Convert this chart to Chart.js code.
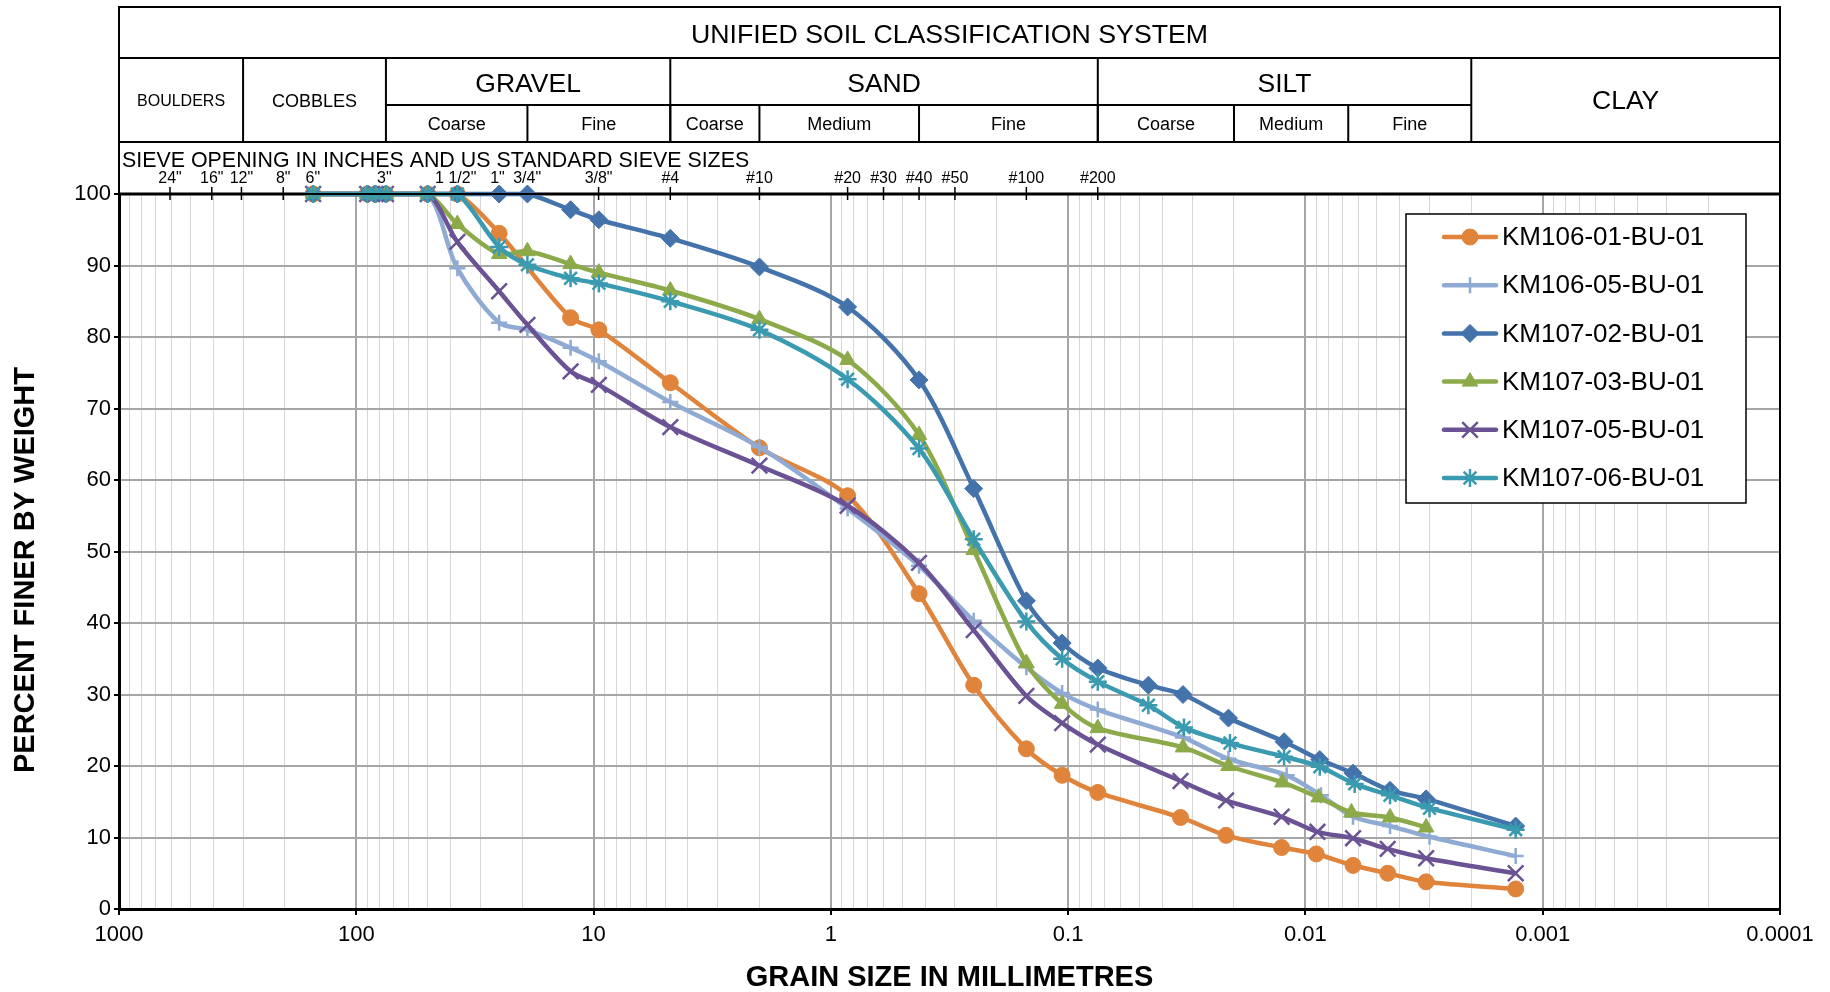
<!DOCTYPE html>
<html lang="en">

<head>
    <meta charset="UTF-8">
    <title>Grain size distribution</title>
    <script src="https://cdn.jsdelivr.net/npm/chart.js"></script>
    <style>
        html, body { margin: 0; padding: 0; background: #fff; }
        canvas { display: block; }
    </style>
</head>

<body>
    <canvas id="grafico" width="1830" height="992"></canvas>

<script>
    // sieve sizes (mm) read for every sample
    const sieveSizes = [152, 90, 83, 75, 50, 37.5, 25, 19, 12.5, 9.5, 4.75, 2.0, 0.85, 0.425, 0.25, 0.15, 0.106, 0.075];

    // percent passing at each sieve (null = no reading)
    const km10601Sieve = [100, 100, 100, 100, 100, 100, 94.5, null, 82.7, 81.0, 73.6, 64.5, 57.8, 44.1, 31.3, 22.4, 18.7, 16.3];
    const km10605Sieve = [100, 100, 100, 100, 100, 89.6, 82.0, 81.0, 78.5, 76.6, 70.9, 64.6, 56.0, 48.0, 40.3, 33.8, 30.2, 27.9];
    const km10702Sieve = [100, 100, 100, 100, 100, 100, 100, 100, 97.8, 96.4, 93.8, 89.8, 84.2, 74.0, 58.8, 43.1, 37.2, 33.7];
    const km10703Sieve = [100, 100, 100, 100, 100, 95.8, 91.6, 92.0, 90.2, 89.0, 86.5, 82.5, 76.8, 66.3, 50.2, 34.4, 28.7, 25.3];
    const km10705Sieve = [100, 100, 100, 100, 100, 93.3, 86.4, 81.7, 75.2, 73.3, 67.4, 62.0, 56.4, 48.4, 39.0, 29.8, 26.0, 23.0];
    const km10706Sieve = [100, 100, 100, 100, 100, 100, 92.6, 90.1, 88.2, 87.5, 85.0, 81.0, 74.1, 64.4, 51.7, 40.2, 35.0, 31.8];

    // hydrometer: diameter (mm) and percent finer
    const km10601HydroSize = [0.0336, 0.0216, 0.0126, 0.0090, 0.0063, 0.0045, 0.0031, 0.0013];
    const km10601HydroPass = [12.8, 10.3, 8.6, 7.7, 6.1, 5.0, 3.8, 2.8];
    const km10605HydroSize = [0.0328, 0.0211, 0.0120, 0.0086, 0.0063, 0.0044, 0.0030, 0.0013];
    const km10605HydroPass = [24.0, 21.0, 18.7, 15.9, 12.9, 11.6, 10.1, 7.4];
    const km10702HydroSize = [0.0459, 0.0328, 0.0211, 0.0123, 0.0087, 0.0063, 0.0044, 0.0031, 0.0013];
    const km10702HydroPass = [31.3, 30.0, 26.7, 23.4, 20.9, 19.0, 16.6, 15.4, 11.6];
    const km10703HydroSize = [0.0328, 0.0211, 0.0125, 0.0088, 0.0064, 0.0044, 0.0031];
    const km10703HydroPass = [22.6, 20.0, 17.7, 15.6, 13.5, 12.8, 11.4];
    const km10705HydroSize = [0.0336, 0.0216, 0.0126, 0.0089, 0.0063, 0.0045, 0.0031, 0.0013];
    const km10705HydroPass = [17.9, 15.2, 12.9, 10.8, 9.9, 8.4, 7.1, 5.0];
    const km10706HydroSize = [0.0459, 0.0325, 0.0208, 0.0123, 0.0087, 0.0062, 0.0044, 0.0030, 0.0013];
    const km10706HydroPass = [28.5, 25.4, 23.2, 21.3, 19.9, 17.5, 15.9, 14.1, 11.1];

    const sampleNames = ['KM106-01-BU-01', 'KM106-05-BU-01', 'KM107-02-BU-01', 'KM107-03-BU-01', 'KM107-05-BU-01', 'KM107-06-BU-01'];

    // sieve ticks along the top of the plot
    const sieveLabels = ['24"', '16"', '12"', '8"', '6"', '3"', '1 1/2"', '1"', '3/4"', '3/8"', '#4', '#10', '#20', '#30', '#40', '#50', '#100', '#200'];
    const sieveOpenings = [609.6, 406.4, 304.8, 203.2, 152.4, 76.2, 38.1, 25.4, 19.05, 9.525, 4.75, 2.0, 0.85, 0.6, 0.425, 0.3, 0.15, 0.075];

    // classification table (grain size limits in mm)
    const mainClasses = ['BOULDERS', 'COBBLES', 'GRAVEL', 'SAND', 'SILT', 'CLAY'];
    const mainLimits = [1000, 300, 75, 4.75, 0.075, 0.002, 0.0001];
    const subClasses = ['Coarse', 'Fine', 'Coarse', 'Medium', 'Fine', 'Coarse', 'Medium', 'Fine'];
    const subLimits = [75, 19, 4.75, 2.0, 0.425, 0.075, 0.02, 0.0066, 0.002];

    // estilo de cada serie
    const lineColors = ['#E0843C', '#8FAAD3', '#4472AB', '#8CAA4A', '#6A5294', '#3A9AB0'];
    const markerStyles = ['circle', 'cross', 'rectRot', 'triangle', 'crossRot', 'star'];
    const markerRadius = [8, 8, 9, 9, 11, 9];
    const markerBorder = [1, 2.5, 1, 1, 2.5, 2.5];

    const sieveSets = [km10601Sieve, km10605Sieve, km10702Sieve, km10703Sieve, km10705Sieve, km10706Sieve];
    const hydroSizes = [km10601HydroSize, km10605HydroSize, km10702HydroSize, km10703HydroSize, km10705HydroSize, km10706HydroSize];
    const hydroPass = [km10601HydroPass, km10605HydroPass, km10702HydroPass, km10703HydroPass, km10705HydroPass, km10706HydroPass];

    function montarPontos(i) {
        const pts = [];
        sieveSizes.forEach((s, k) => {
            if (sieveSets[i][k] !== null) pts.push({ x: s, y: sieveSets[i][k] });
        });
        hydroSizes[i].forEach((s, k) => pts.push({ x: s, y: hydroPass[i][k] }));
        return pts;
    }

    const datasets = sampleNames.map((nome, i) => ({
        label: nome,
        data: montarPontos(i),
        borderColor: lineColors[i],
        backgroundColor: lineColors[i],
        pointBackgroundColor: lineColors[i],
        pointBorderColor: lineColors[i],
        borderWidth: 4.5,
        tension: 0.3,
        pointStyle: markerStyles[i],
        pointRadius: markerRadius[i],
        pointBorderWidth: markerBorder[i],
        clip: false,
        order: sampleNames.length - i
    }));

    // log grid values 1..9 x 10^n
    const xGridValues = [1000];
    for (let e = 2; e >= -4; e--) {
        for (let m = 9; m >= 1; m--) xGridValues.push(+(m * Math.pow(10, e)).toPrecision(2));
    }
    function isDecade(v) {
        const l = Math.log10(v);
        return Math.abs(l - Math.round(l)) < 1e-9;
    }

    const FONTE = "'Liberation Sans', Arial, sans-serif";

    function linha(ctx, x1, y1, x2, y2) {
        ctx.beginPath();
        ctx.moveTo(x1, y1);
        ctx.lineTo(x2, y2);
        ctx.stroke();
    }

    // moldura e peneiras (antes das series)
    const moldura = {
        id: 'moldura',
        beforeDatasetsDraw(chart) {
            const { ctx, chartArea: ca, scales: { x } } = chart;
            ctx.save();
            ctx.strokeStyle = '#000';
            ctx.lineWidth = 3;
            linha(ctx, ca.left, ca.top, ca.right, ca.top);
            ctx.lineWidth = 2;
            linha(ctx, ca.right, ca.top, ca.right, ca.bottom);
            ctx.lineWidth = 1.5;
            ctx.fillStyle = '#000';
            ctx.font = '16px ' + FONTE;
            ctx.textAlign = 'center';
            ctx.textBaseline = 'middle';
            sieveOpenings.forEach((s, i) => {
                const px = x.getPixelForValue(s);
                linha(ctx, px, ca.top - 7, px, ca.top + 6);
                ctx.fillText(sieveLabels[i], px, ca.top - 15);
            });
            ctx.restore();
        }
    };

    // tabela de classificacao acima do grafico
    const tabela = {
        id: 'tabela',
        afterDraw(chart) {
            const { ctx, chartArea: ca, scales: { x } } = chart;
            const px = v => x.getPixelForValue(v);
            const yTop = 7, y1 = 58, y2 = 105, y3 = 142, y4 = ca.top;
            ctx.save();
            ctx.strokeStyle = '#000';
            ctx.lineWidth = 2;
            ctx.strokeRect(ca.left, yTop, ca.right - ca.left, y4 - yTop);
            linha(ctx, ca.left, y1, ca.right, y1);
            linha(ctx, ca.left, y3, ca.right, y3);
            mainLimits.slice(1, -1).forEach(v => linha(ctx, px(v), y1, px(v), y3));
            linha(ctx, px(subLimits[0]), y2, px(subLimits[subLimits.length - 1]), y2);
            subLimits.slice(1, -1).forEach(v => linha(ctx, px(v), y2, px(v), y3));

            ctx.fillStyle = '#000';
            ctx.textAlign = 'center';
            ctx.textBaseline = 'middle';
            ctx.font = '26.7px ' + FONTE;
            ctx.fillText('UNIFIED SOIL CLASSIFICATION SYSTEM', (ca.left + ca.right) / 2, (yTop + y1) / 2 + 3);

            mainClasses.forEach((nome, i) => {
                const cx = (px(mainLimits[i]) + px(mainLimits[i + 1])) / 2;
                const temSub = nome === 'GRAVEL' || nome === 'SAND' || nome === 'SILT';
                let tam = 26.5;
                if (nome === 'BOULDERS') tam = 16;
                if (nome === 'COBBLES') tam = 18;
                ctx.font = tam + 'px ' + FONTE;
                ctx.fillText(nome, cx, temSub ? (y1 + y2) / 2 + 3 : (y1 + y3) / 2 + 2);
            });

            ctx.font = '18px ' + FONTE;
            subClasses.forEach((nome, i) => {
                const cx = (px(subLimits[i]) + px(subLimits[i + 1])) / 2;
                ctx.fillText(nome, cx, (y2 + y3) / 2 + 2);
            });

            ctx.textAlign = 'left';
            ctx.font = '21.4px ' + FONTE;
            ctx.fillText('SIEVE OPENING IN INCHES AND US STANDARD SIEVE SIZES', ca.left + 3, 161);

            // titulo do eixo y
            ctx.translate(26, 570);
            ctx.rotate(-Math.PI / 2);
            ctx.textAlign = 'center';
            ctx.font = 'bold 29px ' + FONTE;
            ctx.fillText('PERCENT FINER BY WEIGHT', 0, 0);
            ctx.restore();
        }
    };

    // legenda desenhada dentro da area do grafico
    const legenda = {
        id: 'legenda',
        afterDraw(chart) {
            const { ctx, chartArea: ca } = chart;
            const w = 340, h = 289;
            const left = ca.right - 374, top = ca.top + 20;
            ctx.save();
            ctx.fillStyle = '#fff';
            ctx.fillRect(left, top, w, h);
            ctx.strokeStyle = '#000';
            ctx.lineWidth = 1.5;
            ctx.strokeRect(left, top, w, h);
            chart.data.datasets.forEach((ds, i) => {
                const y = top + 23 + i * 48.2;
                ctx.strokeStyle = ds.borderColor;
                ctx.lineWidth = 4.5;
                ctx.lineCap = 'round';
                linha(ctx, left + 38, y, left + 90, y);
                ctx.lineCap = 'butt';
                ctx.fillStyle = ds.pointBackgroundColor;
                ctx.strokeStyle = ds.pointBorderColor;
                ctx.lineWidth = ds.pointBorderWidth;
                if (Chart.helpers && Chart.helpers.drawPoint) {
                    Chart.helpers.drawPoint(ctx, {
                        pointStyle: ds.pointStyle, rotation: 0,
                        radius: ds.pointRadius, borderWidth: ds.pointBorderWidth
                    }, left + 64, y);
                } else {
                    ctx.beginPath();
                    ctx.arc(left + 64, y, ds.pointRadius, 0, Math.PI * 2);
                    ctx.fill();
                }
                ctx.fillStyle = '#000';
                ctx.font = '26px ' + FONTE;
                ctx.textAlign = 'left';
                ctx.textBaseline = 'middle';
                ctx.fillText(ds.label, left + 96, y + 1);
            });
            ctx.restore();
        }
    };

    Chart.defaults.font.family = FONTE;
    Chart.defaults.color = '#000';

    const grafico = new Chart(document.getElementById('grafico'), {
        type: 'line',
        data: { datasets: datasets },
        options: {
            responsive: false,
            animation: false,
            devicePixelRatio: 1,
            layout: { padding: { top: 194, right: 50, bottom: 0, left: 0 } },
            plugins: {
                legend: { display: false },
                tooltip: { enabled: false }
            },
            scales: {
                x: {
                    type: 'logarithmic',
                    reverse: true,
                    min: 0.0001,
                    max: 1000,
                    afterBuildTicks: (scale) => {
                        scale.ticks = xGridValues.map(v => ({ value: v }));
                    },
                    afterFit: (scale) => { scale.height = 83; },
                    ticks: {
                        autoSkip: false,
                        maxRotation: 0,
                        minRotation: 0,
                        padding: 7,
                        font: { size: 22 },
                        callback: (v) => {
                            if (!isDecade(v)) return '';
                            const e = Math.round(Math.log10(v));
                            return e >= 0 ? String(Math.pow(10, e)) : Math.pow(10, e).toFixed(-e);
                        }
                    },
                    grid: {
                        color: (c) => isDecade(c.tick.value) ? '#a6a6a6' : '#d6d6d6',
                        lineWidth: (c) => isDecade(c.tick.value) ? 2 : 1,
                        tickColor: (c) => isDecade(c.tick.value) ? '#000' : 'rgba(0,0,0,0)',
                        tickLength: 6,
                        tickWidth: 2
                    },
                    border: { display: true, color: '#000', width: 3 },
                    title: {
                        display: true,
                        text: 'GRAIN SIZE IN MILLIMETRES',
                        font: { size: 29, weight: 'bold', lineHeight: 1.0 },
                        padding: { top: 0, bottom: 0 }
                    }
                },
                y: {
                    min: 0,
                    max: 100,
                    afterFit: (scale) => { scale.width = 119; },
                    ticks: { stepSize: 10, padding: 3, font: { size: 22 } },
                    grid: { color: '#a6a6a6', lineWidth: 2, tickColor: '#000', tickLength: 5, tickWidth: 2 },
                    border: { display: true, color: '#000', width: 3 },
                    title: { display: false }
                }
            }
        },
        plugins: [moldura, tabela, legenda]
    });
</script>
</body>

</html>
